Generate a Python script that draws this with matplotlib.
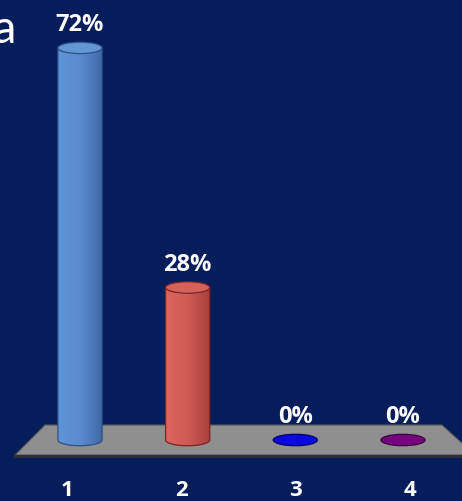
import numpy as np
import matplotlib
matplotlib.use("Agg")
import matplotlib.pyplot as plt
from matplotlib.patches import Polygon, Ellipse, PathPatch
from matplotlib.path import Path
from matplotlib.colors import LinearSegmentedColormap

plt.rcParams["font.family"] = ["Open Sans", "DejaVu Sans"]

# poll results
categories = ["1", "2", "3", "4"]
values = [72, 28, 0, 0]
labels = ["72%", "28%", "0%", "0%"]

BG = "#061d5c"
body_colors = [
    ("#5f94d8", "#5a8ccf", "#3e68a6"),
    ("#dc655e", "#cf5a54", "#a63e3a"),
    ("#1010e0", "#0808d8", "#0000b0"),
    ("#80108a", "#72047e", "#5a0064"),
]
top_colors = ["#6596d4", "#d4625b", "#0a0ae0", "#76047e"]
edge_colors = ["#2f4f88", "#7a2424", "#00006a", "#3c003e"]

CYL_W = 0.41       # cylinder width, category units
ELL_H = 2.1        # ellipse height, percent units
FLOOR_H = 2.76

fig = plt.figure(figsize=(4.62, 5.01), dpi=100, facecolor=BG)
ax = fig.add_axes([0, 0, 1, 1])
ax.set_facecolor(BG)
ax.axis("off")

x = np.arange(len(categories))

# grey floor in perspective
floor = Polygon([(-0.325, FLOOR_H), (3.362, FLOOR_H), (3.67, -FLOOR_H), (-0.604, -FLOOR_H)],
                closed=True, facecolor="#8f8f8f", edgecolor="#555555", lw=0.8, zorder=1)
ax.add_patch(floor)
ax.plot([-0.604, 3.67], [-FLOOR_H - 0.15, -FLOOR_H - 0.15], color="#2e2e3a", lw=2.2, zorder=1)

t = np.linspace(np.pi, 2 * np.pi, 60)
for i, (xi, v) in enumerate(zip(x, values)):
    left, right = xi - CYL_W / 2, xi + CYL_W / 2
    if v > 0:
        # body: side walls plus the lower half of the base ellipse
        verts = [(left, v)] + [(xi + CYL_W / 2 * np.cos(a), ELL_H / 2 * np.sin(a)) for a in t] + [(right, v), (left, v)]
        codes = [Path.MOVETO] + [Path.LINETO] * (len(verts) - 2) + [Path.CLOSEPOLY]
        body = PathPatch(Path(verts, codes), facecolor="none", edgecolor=edge_colors[i], lw=0.9, zorder=3)
        ax.add_patch(body)
        cmap = LinearSegmentedColormap.from_list("shade", body_colors[i])
        grad = np.linspace(0, 1, 256).reshape(1, -1)
        im = ax.imshow(grad, cmap=cmap, aspect="auto", extent=(left, right, -ELL_H / 2, v),
                       origin="lower", zorder=2)
        im.set_clip_path(body)
    top = Ellipse((xi, v), CYL_W, ELL_H, facecolor=top_colors[i], edgecolor=edge_colors[i],
                  lw=0.9, zorder=4)
    ax.add_patch(top)
    ax.text(xi, v + 3.1, labels[i], ha="center", va="baseline", color="white",
            fontsize=17, fontweight="bold", zorder=5)
    ax.text(xi - 0.12 + 0.062 * i, -10.35, categories[i], ha="center", va="baseline",
            color="white", fontsize=16, fontweight="bold")

fig.text(16 / 462, 1 - 43 / 501, "a", ha="right", va="baseline", color="white",
         fontsize=34, family=["Lato", "DejaVu Sans"])

ax.set_xlim(-0.743, 3.548)
ax.set_ylim(-11.2, 80.8)

plt.savefig("out.png", dpi=100, facecolor=BG)
